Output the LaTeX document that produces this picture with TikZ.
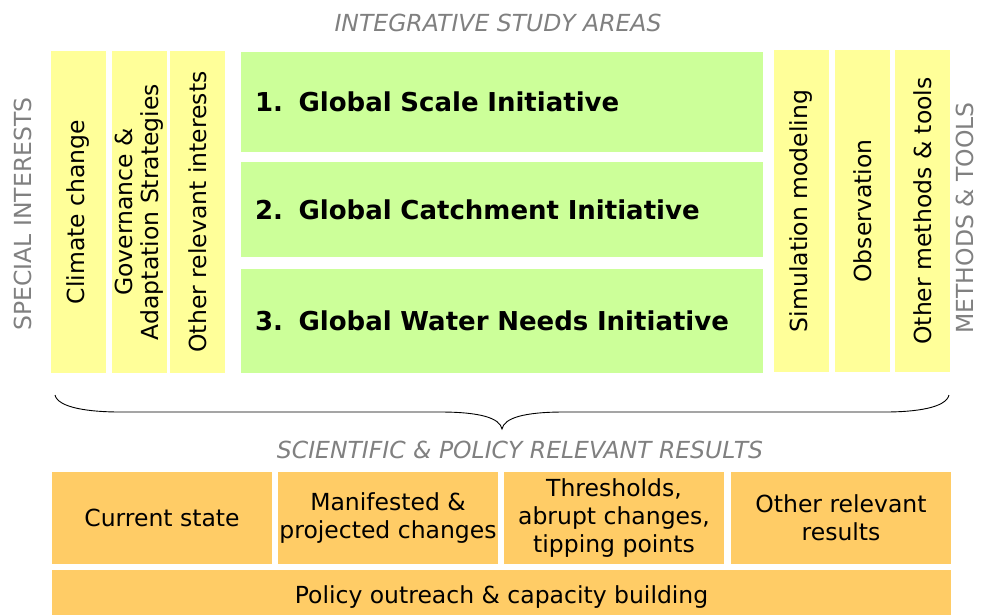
\documentclass[tikz,border=0pt]{standalone}
\usepackage{fontspec}
\setmainfont{DejaVu Sans}
\usetikzlibrary{calc}

\definecolor{paleyellow}{HTML}{FFFF99}
\definecolor{palegreen}{HTML}{CCFF99}
\definecolor{paleorange}{HTML}{FFCC66}
\definecolor{headgray}{HTML}{808080}

\begin{document}
\begin{tikzpicture}[x=1pt, y=-1pt,
    colbox/.style={rectangle, fill=paleyellow, rotate=90, inner sep=0pt,
    minimum width=322pt, minimum height=55pt, align=center,
    font=\fontsize{23.5}{26}\selectfont},
    initbox/.style={rectangle, fill=palegreen, inner xsep=14pt, inner ysep=0pt,
    text width=494pt, align=left, font=\fontsize{26}{30}\selectfont\bfseries},
    resbox/.style={rectangle, fill=paleorange, inner sep=0pt,
    minimum width=220pt, minimum height=92pt, align=center,
    font=\fontsize{23.5}{28}\selectfont},
    heading/.style={text=headgray, inner sep=0pt, font=\fontsize{23.5}{26}\selectfont\itshape},
    sidehead/.style={text=headgray, inner sep=0pt, rotate=90, font=\fontsize{23.5}{26}\selectfont}]
    \useasboundingbox (0, 0) rectangle (983, 614);

	% headings
	\node (Areas) at (498, 23)   [heading] {INTEGRATIVE STUDY AREAS};
	\node (Results) at (520, 450) [heading] {SCIENTIFIC \& POLICY RELEVANT RESULTS};
	\node (Special) at (23, 214)  [sidehead] {SPECIAL INTERESTS};
	\node (Methods) at (965, 218) [sidehead] {METHODS \& TOOLS};

	% special interests
	\node (SI1) at (78.5, 212)  [colbox] {Climate change};
	\node (SI2) at (139.5, 212) [colbox] {Governance \&\\Adaptation Strategies};
	\node (SI3) at (197.5, 212) [colbox] {Other relevant interests};

	% initiatives
	\node (GI1) at (502, 102)   [initbox, minimum height=100pt] {1.\hspace{0.6em}Global Scale Initiative};
	\node (GI2) at (502, 209.5) [initbox, minimum height=95pt] {2.\hspace{0.6em}Global Catchment Initiative};
	\node (GI3) at (502, 321)   [initbox, minimum height=104pt] {3.\hspace{0.6em}Global Water Needs Initiative};

	% methods and tools
	\node (MT1) at (801.5, 211) [colbox] {Simulation modeling};
	\node (MT2) at (862.5, 211) [colbox] {Observation};
	\node (MT3) at (922.5, 211) [colbox] {Other methods \& tools};

	% brace
	\draw [line width=0.9pt] (55, 395) .. controls (58, 408) and (90, 412) .. (120, 412)
	    -- (440, 412) .. controls (480, 412) and (500, 418) .. (502, 429)
	    .. controls (504, 418) and (524, 412) .. (564, 412)
	    -- (885, 412) .. controls (915, 412) and (946, 408) .. (949, 395);

	% results
	\node (R1) at (162, 518) [resbox] {Current state};
	\node (R2) at (388, 518) [resbox] {Manifested \&\\projected changes};
	\node (R3) at (614, 518) [resbox] {Thresholds,\\abrupt changes,\\tipping points};
	\node (R4) at (841, 518) [resbox] {Other relevant\\results};
	\node (Policy) at (501.5, 597) [resbox, minimum width=899pt, minimum height=54pt]
	    {Policy outreach \& capacity building};
\end{tikzpicture}
\end{document}
